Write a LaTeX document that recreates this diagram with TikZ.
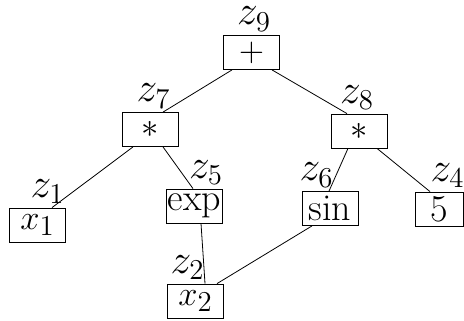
\documentclass[tikz,border=0pt]{standalone}
\tikzset{
  op/.style={draw,font=\fontsize{19}{23}\selectfont,minimum width=28pt,minimum height=17pt,inner sep=0pt},
  every label/.style={font=\fontsize{20.5}{24}\selectfont,inner sep=0.3pt},
  label distance=1.5pt
}
\begin{document}
\begin{tikzpicture}[x=0.5pt,y=-0.5pt]
  \useasboundingbox(0,0) rectangle (464,320);
  \node[op,label={[xshift=1.25pt]above:$z_9$}](plus) at (251.5,52.5){$+$};
  \node[op,label={[xshift=1.5pt]above:$z_7$}](mulL) at (150.5,129.5){$*$};
  \node[op,label={[xshift=-1pt]above:$z_8$}](mulR) at (359,131){$*$};
  \node[op,label={[xshift=5pt]above:$z_1$}](xone) at (37.5,225){$x_1$};
  \node[op,label={[xshift=5.75pt]above:$z_5$}](exp) at (194.5,206){exp};
  \node[op,label={[xshift=-6.75pt]above:$z_6$}](sin) at (330,208.5){sin};
  \node[op,minimum width=24pt,label={[xshift=4.25pt]above:$z_4$}](five) at (439,209){5};
  \node[op,label={[xshift=-4pt]above:$z_2$}](xtwo) at (195.5,301){$x_2$};
  \draw([xshift=-9.75pt]plus.south) -- ([xshift=6.25pt]mulL.north);
  \draw([xshift=10.25pt]plus.south) -- ([xshift=-6pt]mulR.north);
  \draw([xshift=-8.75pt]mulL.south) -- ([xshift=7.25pt]xone.north);
  \draw([xshift=6.25pt]mulL.south) -- ([xshift=-0.75pt]exp.north);
  \draw([xshift=-5.5pt]mulR.south) -- ([xshift=-0.5pt]sin.north);
  \draw([xshift=9pt]mulR.south) -- ([xshift=-4.5pt]five.north);
  \draw([xshift=3.25pt]exp.south) -- ([xshift=4.75pt]xtwo.north);
  \draw([xshift=-9pt]sin.south) -- ([xshift=10.75pt]xtwo.north);
\end{tikzpicture}
\end{document}
